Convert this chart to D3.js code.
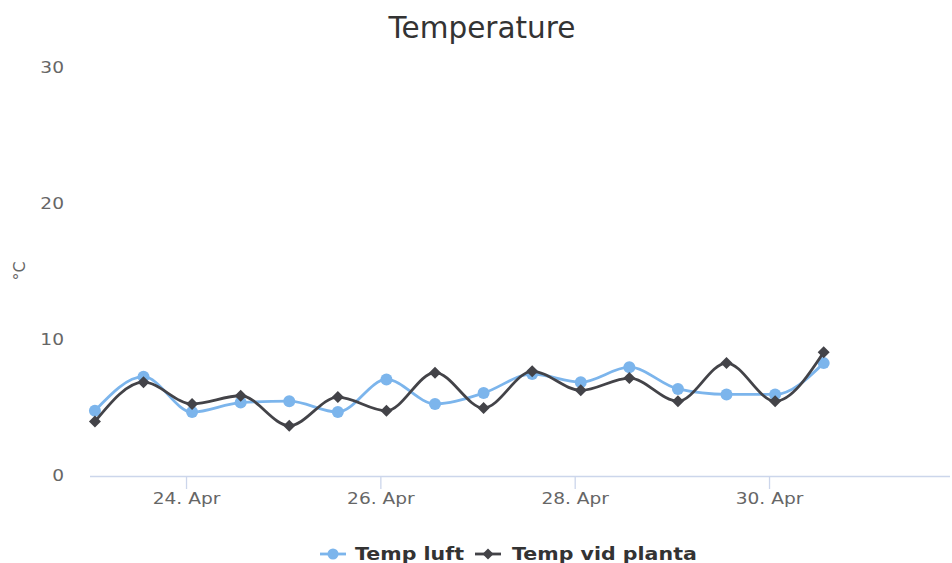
<!DOCTYPE html>
<html>
<head>
<meta charset="utf-8">
<script src="https://cdn.jsdelivr.net/npm/d3@7/dist/d3.min.js"></script>
<style>
  html, body { margin: 0; padding: 0; background: #fff; }
  svg { display: block; font-family: "DejaVu Sans", sans-serif; }
</style>
</head>
<body>
<svg id="chart" width="952" height="563"></svg>
<script>
// ---- data ----
const times = [
  "2018-04-23T01:30", "2018-04-23T13:30", "2018-04-24T01:30", "2018-04-24T13:30",
  "2018-04-25T01:30", "2018-04-25T13:30", "2018-04-26T01:30", "2018-04-26T13:30",
  "2018-04-27T01:30", "2018-04-27T13:30", "2018-04-28T01:30", "2018-04-28T13:30",
  "2018-04-29T01:30", "2018-04-29T13:30", "2018-04-30T01:30", "2018-04-30T13:30"
];
const tempLuft   = [4.8, 7.3, 4.7, 5.4, 5.5, 4.7, 7.1, 5.3, 6.1, 7.5, 6.9, 8.0, 6.4, 6.0, 6.0, 8.3];
const tempPlanta = [4.0, 6.9, 5.3, 5.9, 3.7, 5.8, 4.8, 7.6, 5.0, 7.7, 6.3, 7.2, 5.5, 8.3, 5.5, 9.1];
const xTicks = ["2018-04-24T00:00", "2018-04-26T00:00", "2018-04-28T00:00", "2018-04-30T00:00"];
const yTicks = [0, 10, 20, 30];
const seriesNames = ["Temp luft", "Temp vid planta"];
const seriesColors = ["#7cb5ec", "#434348"];
const xDomain = ["2018-04-23T00:17", "2018-05-01T20:42"];

const parse = d3.isoParse;
const svg = d3.select("#chart");
const plot = { left: 90, right: 950, top: 68, bottom: 476 };
const stretch = 1.24;

const x = d3.scaleTime().domain(xDomain.map(parse)).range([plot.left, plot.right]);
const y = d3.scaleLinear().domain([0, 30]).range([plot.bottom, plot.top]);

// title
svg.append("text")
  .attr("x", 482).attr("y", 38)
  .attr("text-anchor", "middle")
  .attr("fill", "#333333")
  .attr("font-size", 29.5)
  .text("Temperature");

// y axis labels
const yAxis = d3.axisLeft(y).tickValues(yTicks).tickSize(0).tickPadding(0);
const gy = svg.append("g").attr("transform", `translate(64,0)`).call(yAxis);
gy.select(".domain").remove();
gy.selectAll("text").attr("fill", "#666666").attr("font-size", 15)
  .attr("font-family", "DejaVu Sans, sans-serif")
  .attr("transform", `scale(${stretch},1)`);

// y axis title
svg.append("text")
  .attr("transform", "translate(25,271) rotate(-90)")
  .attr("text-anchor", "middle")
  .attr("fill", "#666666")
  .attr("font-size", 16)
  .text("°C");

// x axis
const xAxis = d3.axisBottom(x).tickValues(xTicks.map(parse))
  .tickFormat(d3.timeFormat("%d. %b")).tickSize(13).tickPadding(4);
const gx = svg.append("g").attr("transform", `translate(0,${plot.bottom})`).call(xAxis);
gx.select(".domain").attr("stroke", "#ccd6eb").attr("stroke-width", 1.3).attr("d", `M${plot.left},0.5H${plot.right}`);
gx.selectAll(".tick line").attr("stroke", "#ccd6eb").attr("stroke-width", 1.3);
gx.selectAll("text").attr("fill", "#666666").attr("font-size", 15)
  .attr("font-family", "DejaVu Sans, sans-serif")
  .attr("transform", `scale(${stretch},1)`);

// series
const series = [tempLuft, tempPlanta];
const line = d3.line().curve(d3.curveMonotoneX)
  .x((d, i) => x(parse(times[i]))).y(d => y(d));

const diamond = (cx, cy, r) => `M${cx},${cy - r}L${cx + r},${cy}L${cx},${cy + r}L${cx - r},${cy}Z`;

series.forEach((vals, si) => {
  svg.append("path").datum(vals)
    .attr("d", line)
    .attr("fill", "none")
    .attr("stroke", seriesColors[si])
    .attr("stroke-width", 2.8)
    .attr("stroke-linejoin", "round")
    .attr("stroke-linecap", "round");
  const g = svg.append("g");
  if (si === 0) {
    g.selectAll("circle").data(vals).join("circle")
      .attr("cx", (d, i) => x(parse(times[i])))
      .attr("cy", d => y(d))
      .attr("r", 6)
      .attr("fill", seriesColors[si]);
  } else {
    g.selectAll("path").data(vals).join("path")
      .attr("d", (d, i) => diamond(x(parse(times[i])), y(d), 6))
      .attr("fill", seriesColors[si]);
  }
});

// legend
const legendItems = [
  { sx: 320, tx: 355 },
  { sx: 475, tx: 512 }
];
const ly = 560;
legendItems.forEach((it, i) => {
  const g = svg.append("g");
  g.append("line")
    .attr("x1", it.sx).attr("x2", it.sx + 26)
    .attr("y1", ly - 6).attr("y2", ly - 6)
    .attr("stroke", seriesColors[i]).attr("stroke-width", 2.8);
  if (i === 0) {
    g.append("circle").attr("cx", it.sx + 13).attr("cy", ly - 6).attr("r", 5.5).attr("fill", seriesColors[i]);
  } else {
    g.append("path").attr("d", diamond(it.sx + 13, ly - 6, 5.5)).attr("fill", seriesColors[i]);
  }
  g.append("text")
    .attr("transform", `translate(${it.tx},${ly}) scale(1.21,1)`)
    .attr("fill", "#333333")
    .attr("font-size", 17)
    .attr("font-weight", "bold")
    .text(seriesNames[i]);
});
</script>
</body>
</html>
